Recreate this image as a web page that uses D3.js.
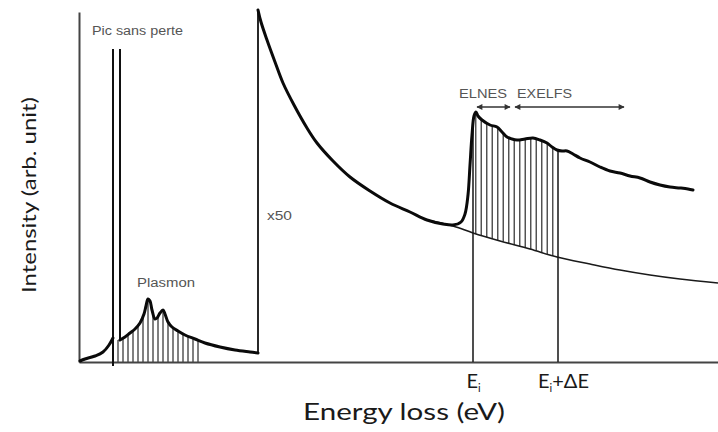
<!DOCTYPE html>
<html>
<head>
<meta charset="utf-8">
<script src="https://cdn.jsdelivr.net/npm/d3@7/dist/d3.min.js"></script>
<style>
  html, body { margin: 0; padding: 0; background: #fff; }
  svg { display: block; }
</style>
</head>
<body>
<svg id="chart" width="718" height="432"></svg>
<script>
// EELS spectrum, energy (arbitrary eV units) vs intensity (arb. unit)

// foot of the zero-loss peak
const footEnergy    = [1, 6, 16, 24, 30, 34];
const footIntensity = [1, 3, 6, 10, 17, 24];

// zero-loss peak ("Pic sans perte") edges and height
const zeroLossEdges  = [34, 41];
const zeroLossHeight = 313;

// plasmon region of the low-loss spectrum
const plasmonEnergy    = [41, 46, 51, 56, 61, 65, 67, 69, 71, 73, 76, 78, 81, 84, 86, 89, 93, 99, 106, 116, 126, 141, 156, 171, 179];
const plasmonIntensity = [22, 25, 29, 33, 39, 48, 56, 63, 61, 52, 43, 44, 49, 52, 48, 40, 35, 31, 27, 23, 19, 15, 12, 10, 9];

// core-loss spectrum, magnified x50
const coreEnergy    = [179, 182, 188, 196, 204, 215, 228, 238, 254, 271, 291, 311, 331, 348, 364, 374, 382, 386, 389, 391, 393, 395, 397, 399, 403, 411, 418, 423, 428, 433, 438, 446, 454, 461, 468, 473, 478, 483, 488, 494, 501, 511, 521, 531, 541, 551, 561, 571, 581, 591, 601, 609, 614];
const coreIntensity = [352, 340, 322, 300, 279, 257, 234, 219, 201, 185, 171, 159, 150, 142, 138, 137, 140, 148, 167, 197, 227, 246, 250, 246, 242, 237, 235, 230, 225, 223, 222, 223, 224, 222, 219, 215, 212, 211, 211, 208, 204, 200, 195, 191, 189, 186, 184, 180, 177, 175, 174, 173, 172];

// extrapolated background under the edge
const bgEnergy    = [348, 374, 394, 421, 451, 478, 511, 541, 571, 601, 639];
const bgIntensity = [142, 136, 129, 121, 113, 105, 98, 92, 87, 83, 79];

// edge onset and integration window
const edgeMarks  = [394, 479];
const edgeLabels = [["E", "i", ""], ["E", "i", "+ΔE"]];

// fine-structure ranges
const elnesRange  = [398, 431];
const exelfsRange = [436, 545];

// hatching windows and spacing
const plasmonWindow = [39, 121];
const plasmonStep = 5;
const edgeStep = 5.5;

const zip = (xs, ys) => xs.map((v, i) => [v, ys[i]]);
const foot = zip(footEnergy, footIntensity);
const plasmon = zip(plasmonEnergy, plasmonIntensity);
const core = zip(coreEnergy, coreIntensity);
const background = zip(bgEnergy, bgIntensity);

const svg = d3.select("#chart");
const x = d3.scaleLinear().domain([0, 639]).range([79, 718]);
const y = d3.scaleLinear().domain([0, 350]).range([362, 12]);

function valueAt(series, e) {
  const i = d3.bisector(d => d[0]).left(series, e);
  if (i <= 0) return series[0][1];
  if (i >= series.length) return series[series.length - 1][1];
  const a = series[i - 1], b = series[i];
  return a[1] + (b[1] - a[1]) * (e - a[0]) / (b[0] - a[0]);
}

const line = d3.line().x(d => x(d[0])).y(d => y(d[1])).curve(d3.curveCatmullRom.alpha(0.5));

// hatching under the plasmon
const hatch = svg.append("g").attr("stroke", "#4a4a4a").attr("stroke-width", 1.4);
d3.range(plasmonWindow[0], plasmonWindow[1], plasmonStep).forEach(e => {
  hatch.append("line")
    .attr("x1", x(e)).attr("x2", x(e))
    .attr("y1", y(0)).attr("y2", y(valueAt(plasmon, e)));
});
// hatching between background and edge
d3.range(edgeMarks[0] + edgeStep / 2, edgeMarks[1], edgeStep).forEach(e => {
  hatch.append("line")
    .attr("x1", x(e)).attr("x2", x(e))
    .attr("y1", y(valueAt(background, e))).attr("y2", y(valueAt(core, e)));
});

// axes
const axisG = svg.append("g").attr("class", "axes");
axisG.append("g").attr("transform", `translate(${x(0)},0)`)
  .call(d3.axisLeft(y).tickValues([]).tickSizeOuter(0));
const xAxis = axisG.append("g").attr("transform", `translate(0,${y(0)})`)
  .call(d3.axisBottom(x).tickValues(edgeMarks).tickSize(0).tickSizeOuter(0).tickPadding(12).tickFormat(""));
axisG.selectAll(".domain").attr("stroke", "#444").attr("stroke-width", 2);
xAxis.selectAll(".tick text").each(function(d, i) {
  const t = d3.select(this)
    .attr("font-family", "Lato, 'Open Sans', sans-serif")
    .attr("font-size", 20)
    .attr("fill", "#1a1a1a")
    .attr("dy", "0.71em")
    .attr("dx", i === 1 ? 5 : 0);
  const [main, sub, rest] = edgeLabels[i];
  t.append("tspan").text(main);
  t.append("tspan").attr("font-size", 11).attr("dy", 4).text(sub);
  if (rest) t.append("tspan").attr("dy", -4).text(rest);
});

// edge markers
svg.append("g").attr("stroke", "#222").attr("stroke-width", 1.6)
  .selectAll("line").data(edgeMarks).join("line")
  .attr("x1", d => x(d)).attr("x2", d => x(d))
  .attr("y1", y(0)).attr("y2", d => y(valueAt(core, d)));

// background
svg.append("path").datum(background)
  .attr("fill", "none").attr("stroke", "#1a1a1a").attr("stroke-width", 1.6)
  .attr("d", line);

// zero-loss peak edges
svg.append("g").attr("stroke", "#111").attr("stroke-width", 2)
  .selectAll("line").data(zeroLossEdges).join("line")
  .attr("x1", d => x(d)).attr("x2", d => x(d))
  .attr("y1", (d, i) => i === 0 ? y(-4) : y(plasmon[0][1]))
  .attr("y2", y(zeroLossHeight));

// x50 step
svg.append("line").attr("stroke", "#111").attr("stroke-width", 1.8)
  .attr("x1", x(core[0][0])).attr("x2", x(core[0][0]))
  .attr("y1", y(plasmon[plasmon.length - 1][1])).attr("y2", y(core[0][1]));

// spectra
const thick = svg.append("g").attr("fill", "none").attr("stroke", "#0a0a0a")
  .attr("stroke-width", 3).attr("stroke-linejoin", "round").attr("stroke-linecap", "round");
thick.append("path").datum(foot).attr("d", line);
thick.append("path").datum(plasmon).attr("d", line);
thick.append("path").datum(core).attr("d", line);

// arrows
const defs = svg.append("defs");
defs.append("marker").attr("id", "arrowEnd").attr("viewBox", "0 0 10 10")
  .attr("refX", 9).attr("refY", 5).attr("markerWidth", 7).attr("markerHeight", 6)
  .attr("markerUnits", "userSpaceOnUse").attr("orient", "auto")
  .append("path").attr("d", "M0,0 L10,5 L0,10 Z").attr("fill", "#333");
defs.append("marker").attr("id", "arrowStart").attr("viewBox", "0 0 10 10")
  .attr("refX", 1).attr("refY", 5).attr("markerWidth", 7).attr("markerHeight", 6)
  .attr("markerUnits", "userSpaceOnUse").attr("orient", "auto")
  .append("path").attr("d", "M10,0 L0,5 L10,10 Z").attr("fill", "#333");

const arrowLevel = 255;
svg.append("g").attr("stroke", "#333").attr("stroke-width", 1.3)
  .selectAll("line").data([elnesRange, exelfsRange]).join("line")
  .attr("x1", d => x(d[0])).attr("x2", d => x(d[1]))
  .attr("y1", y(arrowLevel)).attr("y2", y(arrowLevel))
  .attr("marker-start", "url(#arrowStart)").attr("marker-end", "url(#arrowEnd)");

// small annotations
const notes = [
  { text: "Pic sans perte", e: 13, v: 327, len: 91, size: 12 },
  { text: "Plasmon",        e: 58, v: 75,  len: 58, size: 12 },
  { text: "x50",            e: 188, v: 142, len: 25, size: 12 },
  { text: "ELNES",          e: 380, v: 264, len: 48, size: 13 },
  { text: "EXELFS",         e: 438, v: 264, len: 55, size: 13 }
];
svg.append("g").selectAll("text").data(notes).join("text")
  .attr("x", d => x(d.e)).attr("y", d => y(d.v))
  .attr("font-family", "'Liberation Sans', Arial, sans-serif")
  .attr("font-size", d => d.size)
  .attr("fill", "#555")
  .attr("textLength", d => d.len).attr("lengthAdjust", "spacingAndGlyphs")
  .text(d => d.text);

// axis titles
svg.append("text")
  .attr("transform", `translate(36,${(y(0) + y(350)) / 2 + 8}) rotate(-90)`)
  .attr("text-anchor", "middle")
  .attr("font-family", "Lato, 'Open Sans', sans-serif")
  .attr("font-size", 20).attr("fill", "#1a1a1a")
  .attr("textLength", 196).attr("lengthAdjust", "spacingAndGlyphs")
  .text("Intensity (arb. unit)");

svg.append("text")
  .attr("x", 404).attr("y", 420)
  .attr("text-anchor", "middle")
  .attr("font-family", "Lato, 'Open Sans', sans-serif")
  .attr("font-size", 23).attr("fill", "#1a1a1a")
  .attr("textLength", 202).attr("lengthAdjust", "spacingAndGlyphs")
  .text("Energy loss (eV)");
</script>
</body>
</html>
